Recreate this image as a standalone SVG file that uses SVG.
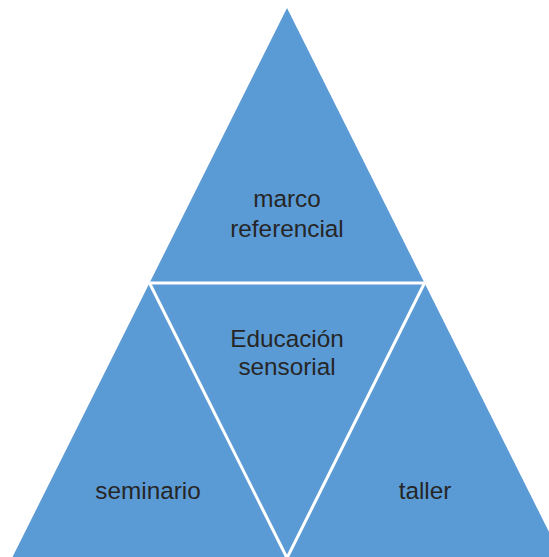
<svg xmlns="http://www.w3.org/2000/svg" width="549" height="557" viewBox="0 0 549 557">
<style>
.tri{fill:#5B9BD5;stroke:none}
.edge{fill:none;stroke:#FFFFFF;stroke-width:3;stroke-linejoin:miter}
.lbl{font-family:"Liberation Sans",Arial,sans-serif;font-size:24.3px;fill:#262626;text-anchor:middle}
</style>
<rect width="549" height="557" fill="#FFFFFF"/>
<g id="top">
<polygon class="tri" points="287,8 424.5,283 149.5,283"/>
<text class="lbl" x="287" y="207">marco</text>
<text class="lbl" x="287" y="237">referencial</text>
</g>
<g id="left">
<polygon class="tri" points="149.5,283 288,560 11,560"/>
<text class="lbl" x="148" y="499">seminario</text>
</g>
<g id="right">
<polygon class="tri" points="424.5,283 563,560 286,560"/>
<text class="lbl" x="425" y="499">taller</text>
</g>
<g id="center">
<polygon class="tri" points="149.5,283 424.5,283 287,558"/>
<text class="lbl" x="287" y="347">Educación</text>
<text class="lbl" x="287" y="375">sensorial</text>
</g>
<g id="connectors">
<polyline class="edge" points="149.5,283 424.5,283"/>
<polyline class="edge" points="149.5,283 288,560"/>
<polyline class="edge" points="424.5,283 286,560"/>
</g>
</svg>
